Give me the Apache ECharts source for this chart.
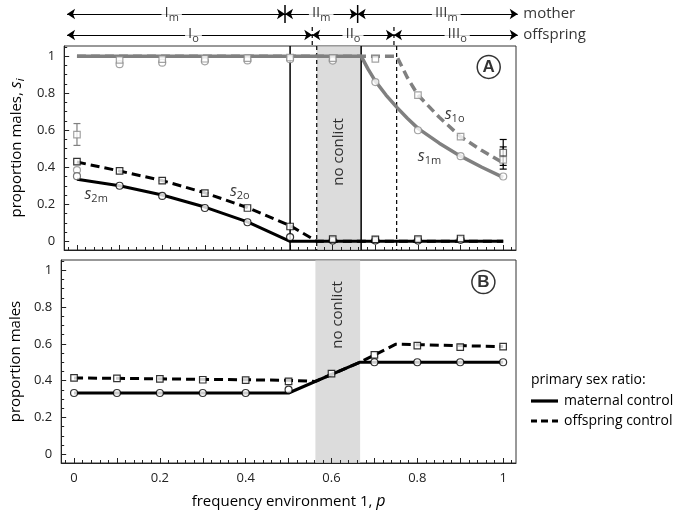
<!DOCTYPE html>
<html><head><meta charset="utf-8">
<script src="https://cdn.jsdelivr.net/npm/echarts@6/dist/echarts.min.js"></script>
<style>html,body{margin:0;padding:0;background:#fff}#c{width:690px;height:512px}</style>
</head><body><div id="c"></div>
<script>
// ---------------- data ----------------
const xTickLabels = [0, 0.2, 0.4, 0.6, 0.8, 1];
const yTickLabels = [0, 0.2, 0.4, 0.6, 0.8, 1];
const bandRange = [0.5625, 0.6667];           // "no conlict" region
const motherBounds = [0.5, 0.6667];           // I_m | II_m | III_m
const offspringBounds = [0.5625, 0.75];       // I_o | II_o | III_o
const motherLabels = ['I', 'II', 'III'];
const offspringLabels = ['I', 'II', 'III'];

// Panel A – analytic curves
const s1mLine = [[0,1],[0.6667,1],[0.683,0.93],[0.7,0.865],[0.725,0.79],[0.75,0.725],[0.775,0.665],[0.8,0.61],[0.85,0.53],[0.9,0.46],[0.95,0.40],[1,0.345]];
const s1oLine = [[0,1],[0.75,1],[0.775,0.885],[0.8,0.79],[0.85,0.67],[0.9,0.565],[0.95,0.49],[1,0.423]];
const s2mLine = [[0,0.335],[0.1,0.30],[0.2,0.25],[0.3,0.185],[0.4,0.105],[0.5,0],[1,0]];
const s2oLine = [[0,0.428],[0.1,0.38],[0.2,0.328],[0.3,0.262],[0.4,0.182],[0.5,0.085],[0.5625,0],[1,0]];
// Panel A – simulation points
const simGrayCirclesA = [[0,0.385],[0.1,0.957],[0.2,0.965],[0.3,0.972],[0.4,0.977],[0.5,0.984],[0.6,0.976],[0.7,0.86],[0.8,0.60],[0.9,0.46],[1,0.35]];
const simDarkCirclesA = [[0,0.352]];
const simGraySquaresA = [[0,0.576],[0.1,0.98],[0.2,0.984],[0.3,0.986],[0.4,0.99],[0.5,0.993],[0.6,0.99],[0.7,0.985],[0.8,0.79],[0.9,0.565],[1,0.44]];
const simDarkSquaresA = [[1,0.479]];
const simBlackCirclesA = [[0.1,0.30],[0.2,0.245],[0.3,0.18],[0.4,0.103],[0.5,0.023],[0.6,0.004],[0.7,0.004],[0.8,0.004],[0.9,0.008]];
const simBlackSquaresA = [[0,0.43],[0.1,0.38],[0.2,0.328],[0.3,0.26],[0.4,0.18],[0.5,0.08],[0.6,0.012],[0.7,0.01],[0.8,0.012],[0.9,0.015]];
const errGrayA = [[0,0.518,0.636]];
const errBlackA = [[1,0.41,0.55],[1,0.39,0.51]];

// Panel B
const matLineB = [[0,0.333],[0.5,0.333],[0.6667,0.5],[1,0.5]];
const offLineB = [[0,0.415],[0.5,0.402],[0.5625,0.396],[0.6667,0.5],[0.75,0.598],[1,0.585]];
const simCirclesB = [[0,0.333],[0.1,0.333],[0.2,0.333],[0.3,0.333],[0.4,0.333],[0.5,0.351],[0.7,0.5],[0.8,0.5],[0.9,0.5],[1,0.5]];
const simSquaresB = [[0,0.415],[0.1,0.412],[0.2,0.41],[0.3,0.405],[0.4,0.403],[0.5,0.396],[0.6,0.438],[0.7,0.54],[0.8,0.59],[0.9,0.582],[1,0.585]];

// ---------------- layout / style ----------------
const FONT = 'Open Sans';
const XR = {min: -0.03, max: 1.03};
const YR = {min: -0.047, max: 1.055};
const ARROW_END = 1.034;
const ROW = {mother: 14, offspring: 35};
const GRAY = '#808080';
const annot = {
  s2m: [0.045, 0.25], s2o: [0.382, 0.264], s1o: [0.886, 0.682], s1m: [0.827, 0.455],
  A: [0.966, 0.942], B: [0.954, 0.935], ncA: [0.615, 0.483], ncB: [0.615, 0.757]
};

const RICH = {
  n:   {fontFamily: FONT, fontSize: 15, color: '#000', lineHeight: 18, verticalAlign: 'top'},
  it:  {fontFamily: FONT, fontSize: 16, color: '#000', lineHeight: 18, verticalAlign: 'top', fontStyle: 'italic'},
  sub: {fontFamily: FONT, fontSize: 11, color: '#000', lineHeight: 6, verticalAlign: 'bottom'},
  subi:{fontFamily: FONT, fontSize: 11, color: '#000', lineHeight: 6, verticalAlign: 'bottom', fontStyle: 'italic'}
};

const xMajorTicks = [], xMinorTicks = [], yMinorTicks = [];
for (let i = 0; i <= 10; i++) xMajorTicks.push(+(i * 0.1).toFixed(2));
for (let i = -1; i <= 51; i++) xMinorTicks.push(+(i * 0.02).toFixed(2));
for (let i = 0; i <= 21; i++) yMinorTicks.push(+(i * 0.05).toFixed(2));
const fmt = v => String(+(+v).toFixed(2));

const tickLbl = {fontFamily: FONT, fontSize: 13, color: '#222'};

function xAxesFor(grid, showLabels, name) {
  return [
    {type: 'value', gridIndex: grid, min: XR.min, max: XR.max, position: 'bottom',
     axisLine: {onZero: false, lineStyle: {color: '#222', width: 1}},
     splitLine: {show: false},
     axisTick: {inside: true, length: 5, customValues: xMajorTicks, lineStyle: {color: '#222'}},
     axisLabel: Object.assign({show: showLabels, customValues: xTickLabels, formatter: fmt, margin: 9}, tickLbl),
     name: name || '', nameLocation: 'middle', nameGap: 30,
     nameTextStyle: {fontFamily: FONT, fontSize: 15, color: '#000', rich: RICH}},
    {type: 'value', gridIndex: grid, min: XR.min, max: XR.max, position: 'bottom',
     axisLine: {show: false, onZero: false}, splitLine: {show: false}, axisLabel: {show: false},
     axisTick: {inside: true, length: 3, customValues: xMinorTicks, lineStyle: {color: '#222'}}}
  ];
}
function yAxesFor(grid, name) {
  return [
    {type: 'value', gridIndex: grid, min: YR.min, max: YR.max, position: 'left',
     axisLine: {onZero: false, lineStyle: {color: '#222', width: 1}},
     splitLine: {show: false},
     axisTick: {inside: true, length: 5, customValues: yTickLabels, lineStyle: {color: '#222'}},
     axisLabel: Object.assign({customValues: yTickLabels, formatter: fmt, margin: 9}, tickLbl),
     name: name, nameLocation: 'middle', nameGap: 32,
     nameTextStyle: {fontFamily: FONT, fontSize: 15, color: '#000', rich: RICH}},
    {type: 'value', gridIndex: grid, min: YR.min, max: YR.max, position: 'left',
     axisLine: {show: false, onZero: false}, splitLine: {show: false}, axisLabel: {show: false},
     axisTick: {inside: true, length: 3, customValues: yMinorTicks, lineStyle: {color: '#222'}}}
  ];
}

const xAxis = [].concat(xAxesFor(0, false), xAxesFor(1, true, 'frequency environment 1, {it|p}'),
  [{type: 'value', gridIndex: 2, min: XR.min, max: XR.max, show: false}]);
const yAxis = [].concat(yAxesFor(0, 'proportion males, {it|s}{subi|i}'), yAxesFor(1, 'proportion males'),
  [{type: 'value', gridIndex: 2, min: 0, max: 46, inverse: true, show: false}]);
const AXA = {xAxisIndex: 0, yAxisIndex: 0};
const AXB = {xAxisIndex: 2, yAxisIndex: 2};
const AXC = {xAxisIndex: 4, yAxisIndex: 4};

function bandSeries(ax) {
  return Object.assign({type: 'custom', silent: true, z: 0, data: [bandRange],
    renderItem(params, api) {
      const cs = params.coordSys;
      const x0 = api.coord([api.value(0), 0])[0], x1 = api.coord([api.value(1), 0])[0];
      return {type: 'rect', shape: {x: x0, y: cs.y + 0.5, width: x1 - x0, height: cs.height - 1},
              style: {fill: '#dcdcdc'}};
    }}, ax);
}
function vlineSeries(ax, values, dashed, yFrom, yTo) {
  return Object.assign({type: 'custom', silent: true, z: 1, data: values.map(v => [v, 0]),
    renderItem(params, api) {
      const cs = params.coordSys;
      const x = api.coord([api.value(0), 0])[0];
      let y0 = cs.y, y1 = cs.y + cs.height;
      if (yFrom != null) { y0 = api.coord([0, yFrom])[1]; y1 = api.coord([0, yTo])[1]; }
      return {type: 'line', shape: {x1: x, y1: y0, x2: x, y2: y1},
              style: {stroke: '#000', lineWidth: dashed ? 1.2 : 1.5, lineDash: dashed ? [4, 3] : null}};
    }}, ax);
}
function lineSeries(ax, data, color, dashed, width, name) {
  return Object.assign({type: 'line', name: name || '', data, symbol: 'none', silent: true, z: 3,
    lineStyle: {color, width: width || 3, type: dashed ? [9, 5] : 'solid', cap: 'butt'},
    itemStyle: {color}}, ax);
}
function markerSeries(ax, data, symbol, stroke) {
  return Object.assign({type: 'scatter', data, symbol, symbolSize: symbol === 'rect' ? 6.5 : 7, silent: true, z: 5,
    itemStyle: {color: '#fff', borderColor: stroke, borderWidth: 1.2}}, ax);
}
function errSeries(ax, data, color) {
  return Object.assign({type: 'custom', silent: true, z: 4, data,
    renderItem(params, api) {
      const lo = api.coord([api.value(0), api.value(1)]);
      const hi = api.coord([api.value(0), api.value(2)]);
      const st = {stroke: color, lineWidth: 1.2};
      return {type: 'group', children: [
        {type: 'line', shape: {x1: lo[0], y1: lo[1], x2: hi[0], y2: hi[1]}, style: st},
        {type: 'line', shape: {x1: lo[0] - 3.5, y1: lo[1], x2: lo[0] + 3.5, y2: lo[1]}, style: st},
        {type: 'line', shape: {x1: hi[0] - 3.5, y1: hi[1], x2: hi[0] + 3.5, y2: hi[1]}, style: st}
      ]};
    }}, ax);
}
function textSeries(ax, pos, text, extra) {
  return Object.assign({type: 'scatter', silent: true, z: 8, data: [pos], symbolSize: 1, clip: false,
    itemStyle: {color: 'rgba(0,0,0,0)'},
    label: Object.assign({show: true, position: 'inside', formatter: text, rich: RICH,
      fontFamily: FONT, fontSize: 15, color: '#000'}, extra || {})}, ax);
}
function circledSeries(ax, pos, letter) {
  return Object.assign({type: 'scatter', silent: true, z: 8, data: [pos], symbolSize: 23,
    itemStyle: {color: '#fff', borderColor: '#000', borderWidth: 1.5},
    label: {show: true, position: 'inside', formatter: letter, fontFamily: 'Liberation Sans',
      fontSize: 17, fontWeight: 'bold', color: '#000'}}, ax);
}

// ---- top region arrows (grid C) ----
function arrowSegments(bounds, row) {
  const pts = [0].concat(bounds, [ARROW_END]);
  const segs = [];
  for (let i = 0; i < pts.length - 1; i++) segs.push({coords: [[pts[i], row], [pts[i + 1], row]]});
  return segs;
}
function labelPoints(labels, sub, row, centers) {
  return labels.map((l, i) => ({value: [centers[i], row], label: {formatter: '{n|' + l + '}{sub|' + sub + '}'}}));
}
const arrowData = arrowSegments(motherBounds, ROW.mother).concat(arrowSegments(offspringBounds, ROW.offspring));
const regionLabelData = labelPoints(motherLabels, 'm', ROW.mother, [0.24, 0.583, 0.87])
  .concat(labelPoints(offspringLabels, 'o', ROW.offspring, [0.29, 0.656, 0.895]));

const series = [
  // grid A
  bandSeries(AXA),
  vlineSeries(AXA, motherBounds, false),
  vlineSeries(AXA, offspringBounds, true),
  lineSeries(AXA, s1oLine, GRAY, true, 3.5),
  lineSeries(AXA, s1mLine, GRAY, false, 3.5),
  lineSeries(AXA, s2oLine, '#000', true, 3),
  lineSeries(AXA, s2mLine, '#000', false, 3),
  errSeries(AXA, errGrayA, GRAY),
  errSeries(AXA, errBlackA, '#000'),
  markerSeries(AXA, simGrayCirclesA, 'circle', '#8c8c8c'),
  markerSeries(AXA, simGraySquaresA, 'rect', '#8c8c8c'),
  markerSeries(AXA, simDarkCirclesA, 'circle', '#555'),
  markerSeries(AXA, simDarkSquaresA, 'rect', '#444'),
  markerSeries(AXA, simBlackCirclesA, 'circle', '#000'),
  markerSeries(AXA, simBlackSquaresA, 'rect', '#000'),
  textSeries(AXA, annot.s2m, '{it|s}{sub|2m}'),
  textSeries(AXA, annot.s2o, '{it|s}{sub|2o}'),
  textSeries(AXA, annot.s1o, '{it|s}{sub|1o}'),
  textSeries(AXA, annot.s1m, '{it|s}{sub|1m}'),
  textSeries(AXA, annot.ncA, 'no conlict', {rotate: 90}),
  circledSeries(AXA, annot.A, 'A'),
  // grid B
  bandSeries(AXB),
  lineSeries(AXB, offLineB, '#000', true, 3, 'offspring control'),
  lineSeries(AXB, matLineB, '#000', false, 3, 'maternal control'),
  markerSeries(AXB, simCirclesB, 'circle', '#000'),
  markerSeries(AXB, simSquaresB, 'rect', '#000'),
  textSeries(AXB, annot.ncB, 'no conlict', {rotate: 90}),
  circledSeries(AXB, annot.B, 'B'),
  // grid C (region arrows)
  Object.assign({type: 'lines', coordinateSystem: 'cartesian2d', silent: true, z: 2, clip: false,
    data: arrowData, symbol: ['arrow', 'arrow'], symbolSize: 8,
    lineStyle: {color: '#000', width: 1.2, opacity: 1}}, AXC),
  vlineSeries(AXC, motherBounds, false, 5, 23),
  vlineSeries(AXC, offspringBounds, true, 27, 46),
  Object.assign({type: 'scatter', silent: true, z: 6, symbolSize: 1, clip: false,
    itemStyle: {color: 'rgba(0,0,0,0)'}, data: regionLabelData,
    label: {show: true, position: 'inside', rich: RICH, backgroundColor: '#fff', padding: [0, 3, 0, 3]}}, AXC),
  Object.assign({type: 'scatter', silent: true, z: 6, symbolSize: 1, clip: false,
    itemStyle: {color: 'rgba(0,0,0,0)'},
    data: [{value: [ARROW_END, ROW.mother], label: {formatter: 'mother'}},
           {value: [ARROW_END, ROW.offspring], label: {formatter: 'offspring'}}],
    label: {show: true, position: 'right', distance: 5, fontFamily: FONT, fontSize: 15, color: '#000'}}, AXC)
];

const ICON_SOLID = 'path://M0,0H27V3.2H0Z';
const ICON_DASH = 'path://M0,0H6V3.2H0Z M10,0H17V3.2H10Z M21,0H27V3.2H21Z';

const option = {
  animation: false,
  backgroundColor: '#fff',
  grid: [
    {left: 54, top: 46, width: 462, height: 204, show: true, borderColor: '#333', borderWidth: 1, backgroundColor: 'transparent'},
    {left: 54, top: 260, width: 462, height: 203, show: true, borderColor: '#333', borderWidth: 1, backgroundColor: 'transparent'},
    {left: 54, top: 0, width: 462, height: 46, show: false}
  ],
  title: {text: 'primary sex ratio:', left: 531, top: 373, padding: 0,
    textStyle: {fontFamily: FONT, fontSize: 14, fontWeight: 'normal', color: '#000'}},
  legend: {orient: 'vertical', left: 531, top: 394, padding: 0, itemWidth: 27, itemHeight: 3.2, itemGap: 6,
    selectedMode: false,
    data: [{name: 'maternal control', icon: ICON_SOLID}, {name: 'offspring control', icon: ICON_DASH}],
    itemStyle: {color: '#000', borderWidth: 0},
    textStyle: {fontFamily: FONT, fontSize: 14, color: '#000', padding: [0, 0, 0, 1]}},
  xAxis, yAxis, series
};
const chart = echarts.init(document.getElementById('c'));
chart.setOption(option);
</script></body></html>
